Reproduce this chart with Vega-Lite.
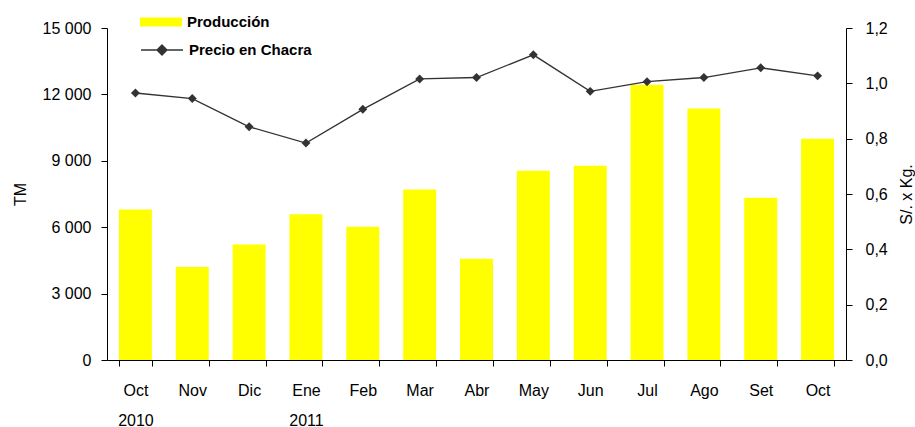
{
  "$schema": "https://vega.github.io/schema/vega-lite/v6.json",
  "width": 739,
  "height": 332,
  "autosize": "none",
  "padding": {"left": 107, "top": 28, "right": 69, "bottom": 67},
  "background": "white",
  "config": {
    "font": "Liberation Sans",
    "view": {"stroke": null},
    "axis": {
      "domainColor": "#000000",
      "tickColor": "#000000",
      "labelColor": "#000000",
      "titleColor": "#000000",
      "grid": false,
      "labelFont": "Liberation Sans",
      "titleFont": "Liberation Sans",
      "titleFontWeight": "normal",
      "labelFontSize": 16,
      "titleFontSize": 16,
      "tickSize": 6
    }
  },
  "data": {
    "values": [
      {"id": "Oct|2010", "prod": 6800, "precio": 0.965},
      {"id": "Nov|", "prod": 4200, "precio": 0.945},
      {"id": "Dic|", "prod": 5220, "precio": 0.843},
      {"id": "Ene|2011", "prod": 6580, "precio": 0.784},
      {"id": "Feb|", "prod": 6020, "precio": 0.906},
      {"id": "Mar|", "prod": 7700, "precio": 1.016},
      {"id": "Abr|", "prod": 4580, "precio": 1.021},
      {"id": "May|", "prod": 8550, "precio": 1.103},
      {"id": "Jun|", "prod": 8780, "precio": 0.971},
      {"id": "Jul|", "prod": 12440, "precio": 1.006},
      {"id": "Ago|", "prod": 11360, "precio": 1.021},
      {"id": "Set|", "prod": 7330, "precio": 1.056},
      {"id": "Oct|", "prod": 10000, "precio": 1.027}
    ]
  },
  "encoding": {
    "x": {
      "field": "id",
      "type": "nominal",
      "sort": null,
      "scale": {"paddingInner": 0.42, "paddingOuter": 0.21},
      "axis": {
        "title": null,
        "labelAngle": 0,
        "tickBand": "extent",
        "labelExpr": "isValid(datum.value) ? split(datum.value, '|') : ''",
        "labelLineHeight": 30,
        "labelPadding": 16,
        "labelBaseline": "top"
      }
    }
  },
  "layer": [
    {
      "mark": {"type": "bar"},
      "encoding": {
        "y": {
          "field": "prod",
          "type": "quantitative",
          "scale": {"domain": [0, 15000], "nice": false},
          "axis": {
            "title": "TM",
            "values": [0, 3000, 6000, 9000, 12000, 15000],
            "labelExpr": "replace(format(datum.value, ','), ',', ' ')",
            "labelPadding": 10,
            "titlePadding": 14
          }
        },
        "fill": {
          "datum": "Producción",
          "scale": {"range": ["#FFFF00"]},
          "legend": {
            "orient": "none",
            "legendX": 33,
            "legendY": -27,
            "title": null,
            "symbolType": "M-1,-0.22H1V0.22H-1Z",
            "symbolSize": 1764,
            "symbolStrokeWidth": 0,
            "labelFont": "Liberation Sans",
            "labelFontWeight": "bold",
            "labelFontSize": 15,
            "labelColor": "#000000",
            "labelOffset": 5
          }
        }
      }
    },
    {
      "encoding": {
        "y": {
          "field": "precio",
          "type": "quantitative",
          "scale": {"domain": [0, 1.2], "nice": false},
          "axis": {
            "orient": "right",
            "title": "S/. x Kg.",
            "titleAngle": 270,
            "values": [0, 0.2, 0.4, 0.6, 0.8, 1.0, 1.2],
            "labelExpr": "replace(format(datum.value, '.1f'), '.', ',')",
            "labelPadding": 13,
            "titlePadding": 27
          }
        }
      },
      "layer": [
        {
          "mark": {"type": "line", "strokeWidth": 1.3},
          "encoding": {
            "stroke": {
              "datum": "Precio en Chacra",
              "scale": {"range": ["#333333"]},
              "legend": {
                "orient": "none",
                "legendX": 33,
                "legendY": 0,
                "title": null,
                "symbolType": "M-1,0H1M0,-0.24L0.24,0L0,0.24L-0.24,0Z",
                "symbolSize": 1764,
                "symbolStrokeWidth": 1.3,
                "symbolFillColor": "#333333",
                "labelFont": "Liberation Sans",
                "labelFontWeight": "bold",
                "labelFontSize": 15,
                "labelColor": "#000000",
                "labelOffset": 5
              }
            }
          }
        },
        {
          "mark": {"type": "point", "shape": "diamond", "filled": true, "size": 80, "color": "#333333", "opacity": 1}
        }
      ]
    }
  ],
  "resolve": {"scale": {"y": "independent", "fill": "independent", "stroke": "independent"}}
}
